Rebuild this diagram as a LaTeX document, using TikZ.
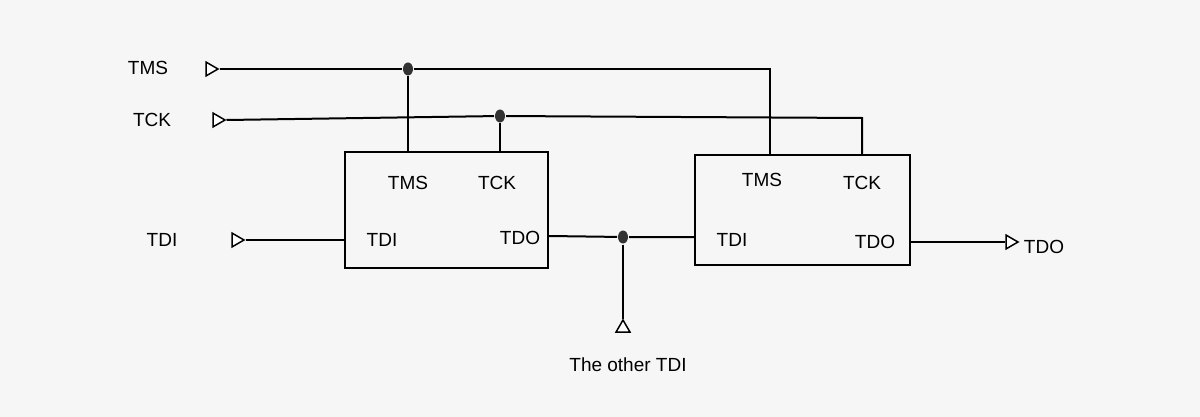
\documentclass[tikz,border=0pt]{standalone}
\usepackage{fontspec}
\setmainfont{Liberation Sans}
\usetikzlibrary{shapes.geometric}
\begin{document}
\begin{tikzpicture}[x=1pt,y=-1pt,line width=2pt,
  lab/.style={font=\fontsize{19}{19}\selectfont,inner sep=1pt},
  tri/.style={isosceles triangle,draw,fill=white,line width=1.5pt,minimum height=12pt,minimum width=13pt,inner sep=0pt,isosceles triangle apex angle=60},
  box/.style={draw,line width=1.8pt},
  dot/.style={ellipse,fill=black!80,minimum width=10pt,minimum height=13pt,inner sep=0pt}]
\fill[white!93!gray] (0,0) rectangle (1200,417);
\useasboundingbox (0,0) rectangle (1200,417);
% boxes
\node[box,minimum width=203pt,minimum height=116pt] (b1) at (446.5,210) {};
\node[box,minimum width=215pt,minimum height=110pt] (b2) at (802.5,210) {};
\node[lab] (b1tms) at (408,183) {TMS};
\node[lab] (b1tck) at (497,183) {TCK};
\node[lab] (b1tdi) at (382,240) {TDI};
\node[lab] (b1tdo) at (520,238) {TDO};
\node[lab] (b2tms) at (762,180) {TMS};
\node[lab] (b2tck) at (862,183) {TCK};
\node[lab] (b2tdi) at (732,240) {TDI};
\node[lab] (b2tdo) at (875,242) {TDO};
% inputs
\node[lab] (ltms) at (148,68) {TMS};
\node[lab] (ltck) at (152,120) {TCK};
\node[lab] (ltdi) at (162,240) {TDI};
\node[tri] (ttms) at (210,69) {};
\node[tri] (ttck) at (217,120) {};
\node[tri] (ttdi) at (236,240) {};
\node[dot] (d1) at (408,69) {};
\node[dot] (d2) at (500,116) {};
\node[dot] (d3) at (623,237) {};
\coordinate (c1) at (770,69);
\coordinate (c2) at (862,118);
\draw (ttms.east) -- (d1) -- (c1) -- (c1 |- b2.north);
\draw (d1) -- (d1 |- b1.north);
\draw (ttck.east) -- (d2) -- (c2) -- (c2 |- b2.north);
\draw (d2) -- (d2 |- b1.north);
\draw (ttdi.east) -- (b1.west |- ttdi);
\draw (b1.east |- 0,236) -- (d3) -- (b2.west |- d3);
\node[tri,shape border rotate=90] (tot) at (623,328) {};
\draw (d3) -- (tot.apex);
\node[lab] (other) at (628,365) {The other TDI};
\node[tri] (tout) at (1010,242) {};
\draw (b2.east |- tout) -- (tout.west);
\node[lab] (lout) at (1044,247) {TDO};
\end{tikzpicture}
\end{document}
